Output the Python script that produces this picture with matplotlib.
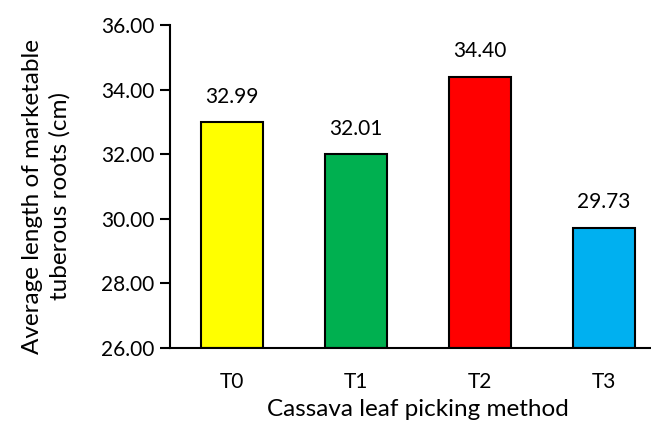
import matplotlib
matplotlib.use('Agg')
import matplotlib.pyplot as plt

plt.rcParams['font.family'] = ['Lato', 'DejaVu Sans']

methods = ['T0', 'T1', 'T2', 'T3']
lengths = [32.99, 32.01, 34.40, 29.73]
colors = ['#FFFF00', '#00B050', '#FF0000', '#00B0F0']

fig = plt.figure(figsize=(6.51, 4.23), dpi=100)
ax = fig.add_axes([170 / 651, 75 / 423, 496 / 651, 323 / 423])

x = range(len(methods))
ax.bar(x, [v - 26 for v in lengths], bottom=26, width=0.5, color=colors,
       edgecolor='black', linewidth=1.5)

for i, v in zip(x, lengths):
    ax.annotate('{:.2f}'.format(v), (i, v), xytext=(0, 11), textcoords='offset points',
                ha='center', va='bottom', fontsize=15)

ax.set_xlim(-0.5, 3.5)
ax.set_ylim(26, 36)
ax.set_yticks([26, 28, 30, 32, 34, 36])
ax.set_yticklabels(['{:.2f}'.format(t) for t in [26, 28, 30, 32, 34, 36]])
ax.set_xticks(list(x))
ax.set_xticklabels(methods)
ax.tick_params(axis='y', length=7, width=1.5, labelsize=15, pad=4)
ax.tick_params(axis='x', length=0, labelsize=15, pad=17)

for s in ['top', 'right']:
    ax.spines[s].set_visible(False)
for s in ['left', 'bottom']:
    ax.spines[s].set_linewidth(1.5)

ax.set_ylabel('Average length of marketable\ntuberous roots (cm)', fontsize=17.5,
              linespacing=1.35)
ax.yaxis.set_label_coords(-0.2, 0.47)
ax.set_xlabel('Cassava leaf picking method', fontsize=17.5, labelpad=5)

fig.savefig('out.png', dpi=100)
